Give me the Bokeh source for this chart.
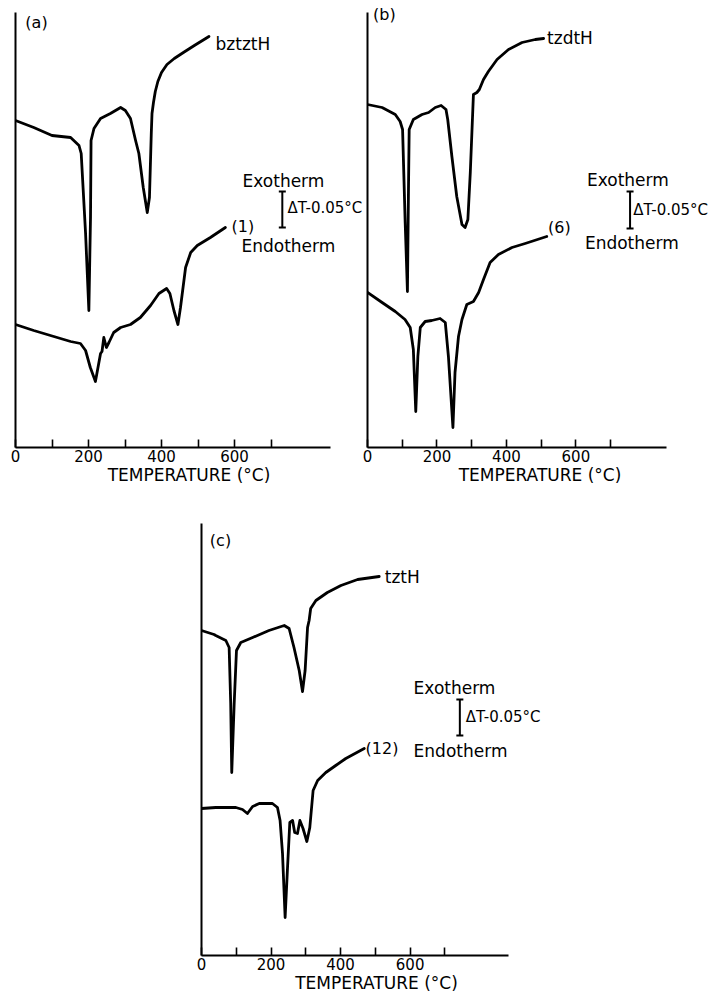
from bokeh.plotting import figure
from bokeh.models import Range1d, FixedTicker, Label, Spacer
from bokeh.layouts import column, row
from bokeh.embed import file_html
from bokeh.resources import INLINE

FONT = "DejaVu Sans"

# ---------------- data (temperature in °C, DTA signal in arbitrary units) ----------------
# panel (a)
a_top_T = [0, 50, 100, 151, 174, 180, 192, 201, 205.5, 207, 215, 233, 260, 274, 288, 301, 315,
           329, 338, 350, 361, 367, 372, 374, 378, 383, 390, 400, 415, 435, 460, 490, 530]
a_top_S = [327, 320, 312, 310, 302, 294, 214, 137, 230, 307, 319, 329, 334, 337, 340, 337, 329,
           307, 294, 260, 235, 250, 314, 334, 345, 356, 366, 375, 383, 389, 395, 402, 411]
a_bot_T = [0, 50, 105, 151, 178, 192, 205, 219, 228, 233, 237, 242, 249, 256, 269, 288, 315, 342,
           370, 393, 414, 423, 434, 445, 452, 466, 480, 498, 534, 575]
a_bot_S = [123, 117, 111, 106, 104, 97, 80, 66, 84, 94, 96, 110, 100, 105, 115, 120, 123, 130,
           142, 154, 159, 154, 137, 123, 140, 180, 195, 202, 210, 220]
# panel (b)
b_top_T = [0, 42, 80, 94, 101, 108.5, 115, 118, 120, 132, 157, 176, 195, 212, 226, 231, 243, 257,
           272, 281, 289, 296, 305, 315, 322, 334, 348, 373, 406, 445, 483, 507]
b_top_S = [343, 340, 333, 326, 318, 225, 156, 258, 318, 328, 333, 335, 340, 342, 338, 328, 291, 251,
           223, 220, 228, 275, 353, 355, 358, 368, 376, 388, 398, 405, 408, 409]
b_bot_T = [0, 42, 80, 108, 123, 132, 139, 145, 152, 166, 185, 209, 224, 233, 246, 252, 262, 272,
           286, 305, 320, 334, 353, 377, 416, 454, 516]
b_bot_S = [155, 145, 136, 128, 120, 98, 36, 91, 120, 126, 127, 129, 125, 91, 20, 75, 111, 128,
           143, 146, 155, 168, 185, 193, 200, 204, 211]
# panel (c)
c_top_T = [0, 36, 41, 70, 79.5, 84, 87, 94, 100.6, 113, 147, 194, 238, 252, 266, 281, 290.5, 298,
           305, 309.5, 314, 329, 362, 401, 449, 511]
c_top_S = [325, 321, 320, 315, 308, 252, 183, 252, 305, 313, 318, 325, 330, 327, 308, 285, 264, 285,
           328, 335, 347, 355, 363, 370, 376, 379]
c_bot_T = [0, 41, 99, 118, 132, 147, 166, 204, 218.5, 226, 233, 240.5, 247, 254, 262, 268, 276,
           283, 292, 303, 311.5, 321, 334, 357.5, 386, 415, 468]
c_bot_S = [147, 148, 148, 146, 142, 149, 152, 152, 148, 135, 102, 38, 85, 133, 135, 123, 122,
           135, 127, 114, 128, 165, 175, 183, 190, 197, 207]

major_ticks = [0, 200, 400, 600]
minor_ticks = [100, 300, 500, 700]
x_title = "TEMPERATURE (°C)"
panel_names = ["(a)", "(b)", "(c)"]
top_names = ["bztztH", "tzdtH", "tztH"]
bot_names = ["(1)", "(6)", "(12)"]
exo_text, endo_text, scale_text = "Exotherm", "Endotherm", "ΔT-0.05°C"


def make_panel(fw, fh, xmax, ymax, x_axis_end, y_axis_end, ml, mr, mt, mb, curves, labels, bar):
    p = figure(frame_width=fw, frame_height=fh,
               x_range=Range1d(0, xmax), y_range=Range1d(0, ymax),
               output_backend="svg", toolbar_location=None,
               min_border_left=ml, min_border_right=mr,
               min_border_top=mt, min_border_bottom=mb)
    p.grid.visible = False
    p.outline_line_color = None
    p.background_fill_color = "white"
    p.border_fill_color = "white"

    xa = p.xaxis[0]
    xa.bounds = (0, x_axis_end)
    xa.ticker = FixedTicker(ticks=major_ticks, minor_ticks=minor_ticks)
    xa.axis_line_width = 2
    xa.axis_line_color = "black"
    xa.major_tick_in = 8
    xa.major_tick_out = 0
    xa.minor_tick_in = 8
    xa.minor_tick_out = 0
    xa.major_tick_line_width = 1.6
    xa.minor_tick_line_width = 1.6
    xa.major_tick_line_color = "black"
    xa.minor_tick_line_color = "black"
    xa.major_label_text_font = FONT
    xa.major_label_text_font_size = "15px"
    xa.major_label_text_color = "black"
    xa.major_label_standoff = 2
    xa.axis_label = x_title
    xa.axis_label_text_font = FONT
    xa.axis_label_text_font_size = "17px"
    xa.axis_label_text_font_style = "normal"
    xa.axis_label_text_color = "black"
    xa.axis_label_standoff = 0

    ya = p.yaxis[0]
    ya.bounds = (0, y_axis_end)
    ya.ticker = FixedTicker(ticks=[])
    ya.axis_line_width = 2
    ya.axis_line_color = "black"
    ya.major_tick_in = 0
    ya.major_tick_out = 0
    ya.minor_tick_in = 0
    ya.minor_tick_out = 0
    ya.major_label_text_font_size = "0px"

    for T, S in curves:
        p.line(T, S, line_width=2.8, line_color="black", line_join="round", line_cap="round")

    for (x, y, txt, size) in labels:
        p.add_layout(Label(x=x, y=y, text=txt, text_font=FONT, text_font_size=size,
                           text_color="black", text_baseline="middle", text_align="left"))

    bx, by0, by1 = bar
    p.segment(x0=[bx], y0=[by0], x1=[bx], y1=[by1], line_width=2, line_color="black")
    p.scatter([bx, bx], [by0, by1], marker="dash", size=7, line_width=2, line_color="black")
    return p


# panel (a): frame 15..362 px wide, scale 0.365 px per degree
pa = make_panel(347, 445, 347 / 0.365, 445, 863, 435, 15, 0, 2, 45,
                [(a_top_T, a_top_S), (a_bot_T, a_bot_S)],
                [(27, 425, panel_names[0], "16px"),
                 (548, 404, top_names[0], "17px"),
                 (592, 221, bot_names[0], "16px"),
                 (622, 267, exo_text, "17px"),
                 (745, 240, scale_text, "15px"),
                 (619, 202, endo_text, "17px")],
                (731, 256, 220))

# panel (b): frame 367..712 px, scale 0.3473 px per degree
pb = make_panel(345, 445, 345 / 0.3473, 445, 862, 435, 5, 0, 2, 45,
                [(b_top_T, b_top_S), (b_bot_T, b_bot_S)],
                [(16, 433, panel_names[1], "16px"),
                 (517, 410, top_names[1], "17px"),
                 (520, 220, bot_names[1], "16px"),
                 (632, 268, exo_text, "17px"),
                 (765, 238, scale_text, "15px"),
                 (626, 205, endo_text, "17px")],
                (756, 256, 219))

# panel (c): frame 201..551 px, scale 0.3477 px per degree
pc = make_panel(350, 435, 350 / 0.3477, 435, 884, 432, 7, 0, 28, 38,
                [(c_top_T, c_top_S), (c_bot_T, c_bot_S)],
                [(24, 415, panel_names[2], "16px"),
                 (527, 379, top_names[2], "17px"),
                 (472, 207, bot_names[2], "16px"),
                 (610, 268, exo_text, "17px"),
                 (760, 239, scale_text, "15px"),
                 (610, 205, endo_text, "17px")],
                (743, 256, 220))

layout = column(row(pa, pb), row(Spacer(width=194, height=10), pc))

open("out.html", "w").write(file_html(layout, INLINE))
